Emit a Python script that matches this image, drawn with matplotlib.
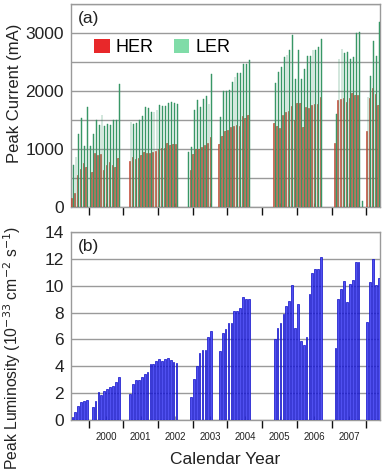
import numpy as np
import matplotlib
matplotlib.use("Agg")
import matplotlib.pyplot as plt
from matplotlib.patches import Patch
from matplotlib.ticker import FixedLocator, FixedFormatter, MultipleLocator, NullFormatter

plt.rcParams["font.family"] = ["Liberation Sans", "DejaVu Sans"]

nan = np.nan

# first month of each running period (monthly peak values follow)
run_start = ["1999-07", "2001-03", "2002-11", "2003-10", "2005-05", "2007-02", "2008-01"]

# HER peak current (mA)
her_a = [150, 240, 545, 650, 750, 690, nan, 590, 920, 890, 905, 630, 725, 775, 710, 690, 835]
her_b = [790, 850, 825, 842, 890, 945, 920, 922, 950, 960, 998, 1005, 1015, 1090, 1070, 1080, 1080]
her_c = [nan, 630, 900, 1000, 1000, 1030, 1070, 1100, 1200]
her_d = [1080, 1220, 1310, 1330, 1370, 1400, 1410, 1400, 1560, 1530, 1590]
her_e = [1443, 1396, 1350, 1575, 1627, 1656, 1735, 1500, 1790, 1795, 1375, 1725, 1700, 1750, 1775, 1778, 1895]
her_f = [1100, 1840, 1850, 1870, 1800, 1870, 1960, 1920, 1925, nan]
her_g = [1300, 1870, 2055, 1945, 1760]

# LER peak current (mA)
ler_a = [710, 865, 1255, 1525, 1045, 1722, 1045, 1250, 1495, 1415, 1585, 1395, 1425, 1415, 1495, 1495, 2110]
ler_b = [1455, 1428, 1450, 1495, 1565, 1712, 1700, 1630, 1642, 1668, 1755, 1738, 1730, 1782, 1800, 1782, 1775]
ler_c = [935, 1030, 1670, 1845, 1725, 1850, 1910, 1770, 2295]
ler_d = [1550, 2000, 2000, 2010, 2150, 2230, 2300, 2310, 2460, 2460, 2540]
ler_e = [2135, 2325, 2415, 2585, 2615, 2710, 2960, 2204, 2712, 2195, 2383, 2595, 2605, 2700, 2710, 2758, 2897]
ler_f = [1600, 2550, 2725, 2650, 2665, 2550, 2590, 3005, 3015, 90]
ler_g = [1890, 2262, 2855, 2600, 3195]

# peak luminosity (10^33 cm^-2 s^-1)
lum_a = [0.2, 0.57, 1.0, 1.37, 1.44, 1.49, nan, 0.95, 1.44, 2.06, 1.87, 2.19, 2.34, 2.44, 2.56, 2.81, 3.23]
lum_b = [1.94, 2.69, 2.94, 2.94, 3.23, 3.4, 3.6, 4.2, 4.2, 4.4, 4.55, 4.38, 4.53, 4.65, 4.48, 4.3, 4.25]
lum_c = [nan, 1.74, 3.06, 4.05, 5.02, 5.25, 5.25, 6.15, 6.65]
lum_d = [5.12, 6.47, 6.8, 7.2, 7.25, 8.15, 8.15, 8.35, 9.2, 9.0, 9.05]
lum_e = [6.04, 6.84, 7.26, 7.89, 8.46, 8.9, 10.05, 6.87, 8.65, 5.85, 5.57, 6.2, 9.4, 10.95, 11.25, 11.25, 12.12]
lum_f = [5.35, 9.05, 9.75, 10.37, 8.76, 10.17, 10.42, 11.8, 11.8, nan]
lum_g = [7.31, 10.27, 12.04, 10.07, 10.6]

her_runs = [her_a, her_b, her_c, her_d, her_e, her_f, her_g]
ler_runs = [ler_a, ler_b, ler_c, ler_d, ler_e, ler_f, ler_g]
lum_runs = [lum_a, lum_b, lum_c, lum_d, lum_e, lum_f, lum_g]

years = list(range(2000, 2008))


def month_x(start, n, offset):
    """Decimal-year position of n consecutive monthly bars."""
    y, m = map(int, start.split("-"))
    k = np.arange(n) + (m - 1)
    return y + (k + offset) / 12.0


def draw_bars(ax, start, vals, offset, width, **kw):
    vals = np.asarray(vals, dtype=float)
    x = month_x(start, len(vals), offset)
    ok = np.isfinite(vals)
    ax.bar(x[ok], vals[ok], width=width / 12.0, align="center", **kw)


fig = plt.figure(figsize=(3.82, 4.75), dpi=100)
ax1 = fig.add_axes([0.186, 0.565, 0.809, 0.4268])
ax2 = fig.add_axes([0.186, 0.116, 0.809, 0.3951])

for start, her, ler, lum in zip(run_start, her_runs, ler_runs, lum_runs):
    draw_bars(ax1, start, her, 0.10, 0.45, color="#d9735f", edgecolor="#b8321f",
              linewidth=0.4, zorder=3)
    draw_bars(ax1, start, ler, 0.60, 0.30, color="#3f9f6e", edgecolor="#2f8c5c",
              linewidth=0.3, zorder=3)
    draw_bars(ax2, start, lum, 0.35, 0.60, color="#5050f0", edgecolor="#0c0cc8",
              linewidth=0.5, zorder=3)

grid_col = "#9a9a9a"
for ax in (ax1, ax2):
    ax.set_xlim(1999.49, 2008.40)
    for s in ax.spines.values():
        s.set_color(grid_col)
        s.set_linewidth(1.0)
    ax.xaxis.set_major_locator(FixedLocator(list(range(2000, 2009))))
    ax.xaxis.set_minor_locator(FixedLocator([y + 0.5 for y in years]))
    ax.xaxis.set_major_formatter(NullFormatter())
    ax.tick_params(axis="x", which="major", direction="out", length=6, width=1.0,
                   color="#111111")
    ax.tick_params(axis="x", which="minor", direction="in", length=3, width=0.8,
                   color=grid_col)
    ax.tick_params(axis="y", length=0, pad=5, labelsize=12.5, labelcolor="#222222")
    ax.yaxis.grid(True, which="both", color=grid_col, linewidth=1.0, zorder=0)
    ax.set_axisbelow(True)

ax1.set_ylim(0, 3500)
ax1.yaxis.set_major_locator(FixedLocator([0, 1000, 2000, 3000]))
ax1.yaxis.set_minor_locator(MultipleLocator(500))
ax1.tick_params(axis="y", which="minor", length=0)
ax1.xaxis.set_minor_formatter(NullFormatter())
ax1.set_ylabel("Peak Current (mA)", fontsize=12, color="#222222")
ax1.yaxis.set_label_coords(-0.16, 0.56)
ax1.text(0.022, 0.965, "(a)", transform=ax1.transAxes, fontsize=12.5, va="top",
         color="#222222")

handles = [Patch(facecolor="#e8282a", edgecolor="none", label="HER"),
           Patch(facecolor="#80dca8", edgecolor="none", label="LER")]
ax1.legend(handles=handles, loc="center left", bbox_to_anchor=(0.075, 0.785), ncol=2,
           frameon=False, fontsize=13, handlelength=0.85, handleheight=0.85,
           handletextpad=0.35, columnspacing=1.1, borderaxespad=0, borderpad=0)

ax2.set_ylim(0, 14)
ax2.yaxis.set_major_locator(MultipleLocator(2))
ax2.xaxis.set_minor_formatter(FixedFormatter([str(y) for y in years]))
ax2.tick_params(axis="x", which="minor", labelsize=7, pad=9, labelcolor="#222222")
ax2.set_ylabel(r"Peak Luminosity (10$^{-33}$ cm$^{-2}$ s$^{-1}$)", fontsize=11.3,
               color="#222222")
ax2.yaxis.set_label_coords(-0.155, 0.385)
ax2.set_xlabel("Calendar Year", fontsize=12.5, color="#222222", labelpad=7)
ax2.text(0.022, 0.965, "(b)", transform=ax2.transAxes, fontsize=12.5, va="top",
         color="#222222")

fig.savefig("out.png", dpi=100)
